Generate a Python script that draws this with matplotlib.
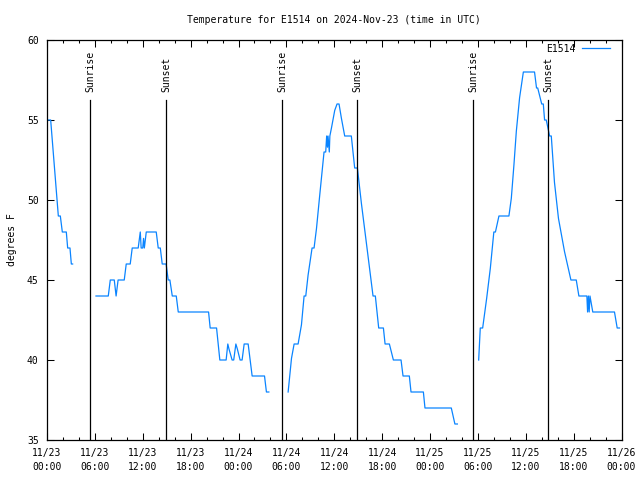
#!/usr/bin/env python3
"""Temperature trace for station E1514 with sunrise / sunset markers."""

import numpy as np
import matplotlib
matplotlib.use('Agg')
import matplotlib.pyplot as plt
import matplotlib.dates as mdates

# hours after 2024-11-23 00:00 UTC and temperature (deg F), one list pair per gap-free stretch
seg1_hours = [0, 0.46, 1.42, 1.67, 1.92, 2.42, 2.59, 2.88, 3.05, 3.21]
seg1_temps = [55, 55, 49, 49, 48, 48, 47, 47, 46, 46]

seg2_hours = [6.14, 7.68, 7.93, 8.43, 8.66, 8.91, 9.68, 9.93, 10.43, 10.68, 11.43, 11.69,
              11.8, 12.0, 12.1, 12.2, 12.44, 13.69, 13.94, 14.2, 14.44, 14.93, 15.19, 15.4,
              15.7, 16.2, 16.45, 20.25, 20.45, 21.25, 21.66, 22.45, 22.66, 22.8, 23.2, 23.4,
              23.67, 23.85, 24.2, 24.45, 24.71, 25.21, 25.71, 27.26, 27.5, 27.8]
seg2_temps = [44, 44, 45, 45, 44, 45, 45, 46, 46, 47, 47, 48,
              47, 47, 47.6, 47, 48, 48, 47, 47, 46, 46, 45, 45,
              44, 44, 43, 43, 42, 42, 40, 40, 41, 40.7, 40, 40,
              41, 40.7, 40, 40, 41, 41, 39, 39, 38, 38]

seg3_hours = [30.22, 30.64, 30.97, 31.47, 31.89, 32.22, 32.43, 32.72, 33.22, 33.47, 33.77,
              34.18, 34.48, 34.72, 34.93, 35.05, 35.15, 35.22, 35.38, 35.45, 35.65, 36.06,
              36.35, 36.6, 36.9, 37.31, 38.14, 38.56, 38.9, 39.4, 40.03, 40.86, 41.15, 41.57,
              42.16, 42.37, 42.91, 43.41, 44.37, 44.62, 45.41, 45.62, 47.17, 47.37, 50.67,
              51.12, 51.43]
seg3_temps = [38, 40.1, 41, 41, 42.2, 44, 44, 45.3, 47, 47, 48.2,
              50.3, 51.8, 53, 53, 54, 53.3, 54, 53, 54, 54.5, 55.6,
              56, 56, 55.1, 54, 54, 52, 52, 49.8, 47.3, 44, 44, 42,
              42, 41, 41, 40, 40, 39, 39, 38, 38, 37, 37,
              36, 36]

seg4_hours = [54.1, 54.3, 54.6, 55.1, 55.56, 56.0, 56.2, 56.64, 57.89, 58.19, 58.52, 58.82,
              59.23, 59.7, 61.1, 61.35, 61.5, 62.0, 62.2, 62.36, 62.57, 62.99, 63.2, 63.6,
              64.1, 64.86, 65.66, 66.33, 66.66, 67.66, 67.75, 67.85, 67.95, 68.05, 68.4,
              71.12, 71.46, 71.75]
seg4_temps = [40, 42, 42, 43.85, 45.73, 48, 48, 49, 49, 50.1, 52.2, 54.3,
              56.4, 58, 58, 57, 57, 56, 56, 55, 55, 54, 54, 51.1,
              48.85, 46.77, 45, 45, 44, 44, 43, 44, 43, 44, 43,
              43, 42, 42]

sunrise_hours = [5.42, 29.45, 53.4]
sunset_hours = [14.93, 38.87, 62.85]

yticks = [35, 40, 45, 50, 55, 60]

base = np.datetime64('2024-11-23T00:00')


def to_time(hours):
    secs = np.round(np.asarray(hours) * 3600).astype(int)
    return base + secs.astype('timedelta64[s]')


plt.rcParams['font.family'] = 'DejaVu Sans Mono'
plt.rcParams['font.size'] = 7

fig = plt.figure(figsize=(6.4, 4.8), dpi=100)
ax = fig.add_axes([47 / 640, 40 / 480, 574.5 / 640, 400 / 480])

line_color = '#0a84ff'
segments = [(seg1_hours, seg1_temps), (seg2_hours, seg2_temps),
            (seg3_hours, seg3_temps), (seg4_hours, seg4_temps)]
for i, (hrs, tmp) in enumerate(segments):
    ax.plot(to_time(hrs), tmp, color=line_color, lw=0.9,
            label='E1514' if i == 0 else None)

# sunrise / sunset markers
for name, hours in (('Sunrise', sunrise_hours), ('Sunset', sunset_hours)):
    for t in to_time(hours):
        ax.plot([t, t], [35, 56.25], color='black', lw=0.9)
        ax.text(t, 56.75, name, rotation=90, ha='center', va='bottom', fontsize=7)

ax.set_xlim(base, base + np.timedelta64(72, 'h'))
ax.set_ylim(35, 60)
ax.set_yticks(yticks)
ax.xaxis.set_major_locator(mdates.HourLocator(byhour=[0, 6, 12, 18]))
ax.xaxis.set_minor_locator(mdates.HourLocator(interval=2))
ax.xaxis.set_major_formatter(mdates.DateFormatter('%m/%d\n%H:%M'))

ax.tick_params(which='both', direction='in', top=True, right=True, width=0.75, colors='black')
ax.tick_params(which='major', length=5, pad=6)
ax.tick_params(which='minor', length=2.5)
ax.tick_params(axis='y', pad=6)
for sp in ax.spines.values():
    sp.set_linewidth(0.9)

ax.set_title('Temperature for E1514 on 2024-Nov-23 (time in UTC)', fontsize=7, pad=12)
ax.set_ylabel('degrees F', labelpad=7)

ax.legend(loc='upper right', bbox_to_anchor=(1 - 7.6 / 574.5, 1.0), frameon=False,
          markerfirst=False, handlelength=2.9, borderaxespad=0, fontsize=7,
          handletextpad=0.7)

fig.canvas.draw()
plt.setp(ax.get_xticklabels(), linespacing=1.5)

fig.savefig('out.png', dpi=100)
